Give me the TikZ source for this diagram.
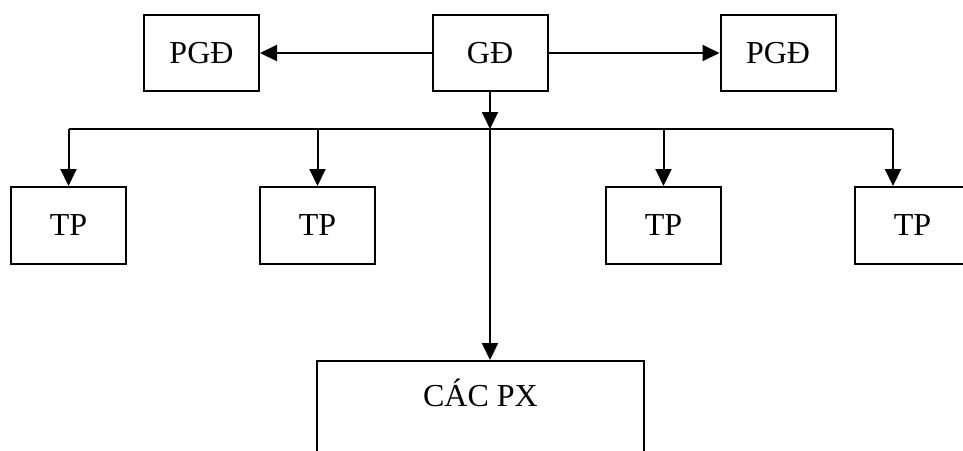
\documentclass[tikz,border=0pt]{standalone}
\usepackage{fontspec}
\setmainfont{Liberation Serif}
\usetikzlibrary{arrows.meta}

\tikzset{
    box/.style={draw, line width=2pt, minimum width=115pt, minimum height=76pt, inner sep=0pt,
        font=\fontsize{32}{38}\selectfont},
    link/.style={line width=2pt, -{Triangle[length=17pt,width=16pt]}}
}

\begin{document}
\begin{tikzpicture}[x=1pt, y=-1pt]
        \useasboundingbox (0, 0) rectangle (963, 450);
        \clip (0, 0) rectangle (963, 450);

        % TOP ROW
        \node[box] (gd) at (490, 53) {GĐ};
        \node[box] (pgdleft) at (201.5, 53) {PGĐ};
        \node[box] (pgdright) at (778, 53) {PGĐ};

        % TP ROW
        \node[box, minimum height=77pt] (tp1) at (68.5, 225.5) {TP};
        \node[box, minimum height=77pt] (tp2) at (317.5, 225.5) {TP};
        \node[box, minimum height=77pt] (tp3) at (663.5, 225.5) {TP};
        \node[box, minimum height=77pt] (tp4) at (912.5, 225.5) {TP};

        % CAC PX
        \node[box, minimum width=327pt, minimum height=0pt, anchor=north,
              text height=40pt, text depth=80pt, inner ysep=5.5pt] (px) at (480.5, 360) {CÁC PX};

        % BUS
        \coordinate (bus) at (490, 129);
        \coordinate (b1) at (68.5, 129);
        \coordinate (b2) at (317.5, 129);
        \coordinate (b3) at (663.5, 129);
        \coordinate (b4) at (893, 129);
        \draw[line width=2pt] (b1) -- (b4);

        \draw[link] (gd.west) -- (pgdleft.east);
        \draw[link] (gd.east) -- (pgdright.west);
        \draw[link] (gd.south) -- (bus);

        \draw[link] (b1) -- (tp1.north);
        \draw[link] (b2) -- (tp2.north);
        \draw[link] (b3) -- (tp3.north);
        \draw[link] (b4) -- (b4 |- tp4.north);
        \draw[link] (bus) -- (bus |- px.north);
    \end{tikzpicture}
\end{document}
